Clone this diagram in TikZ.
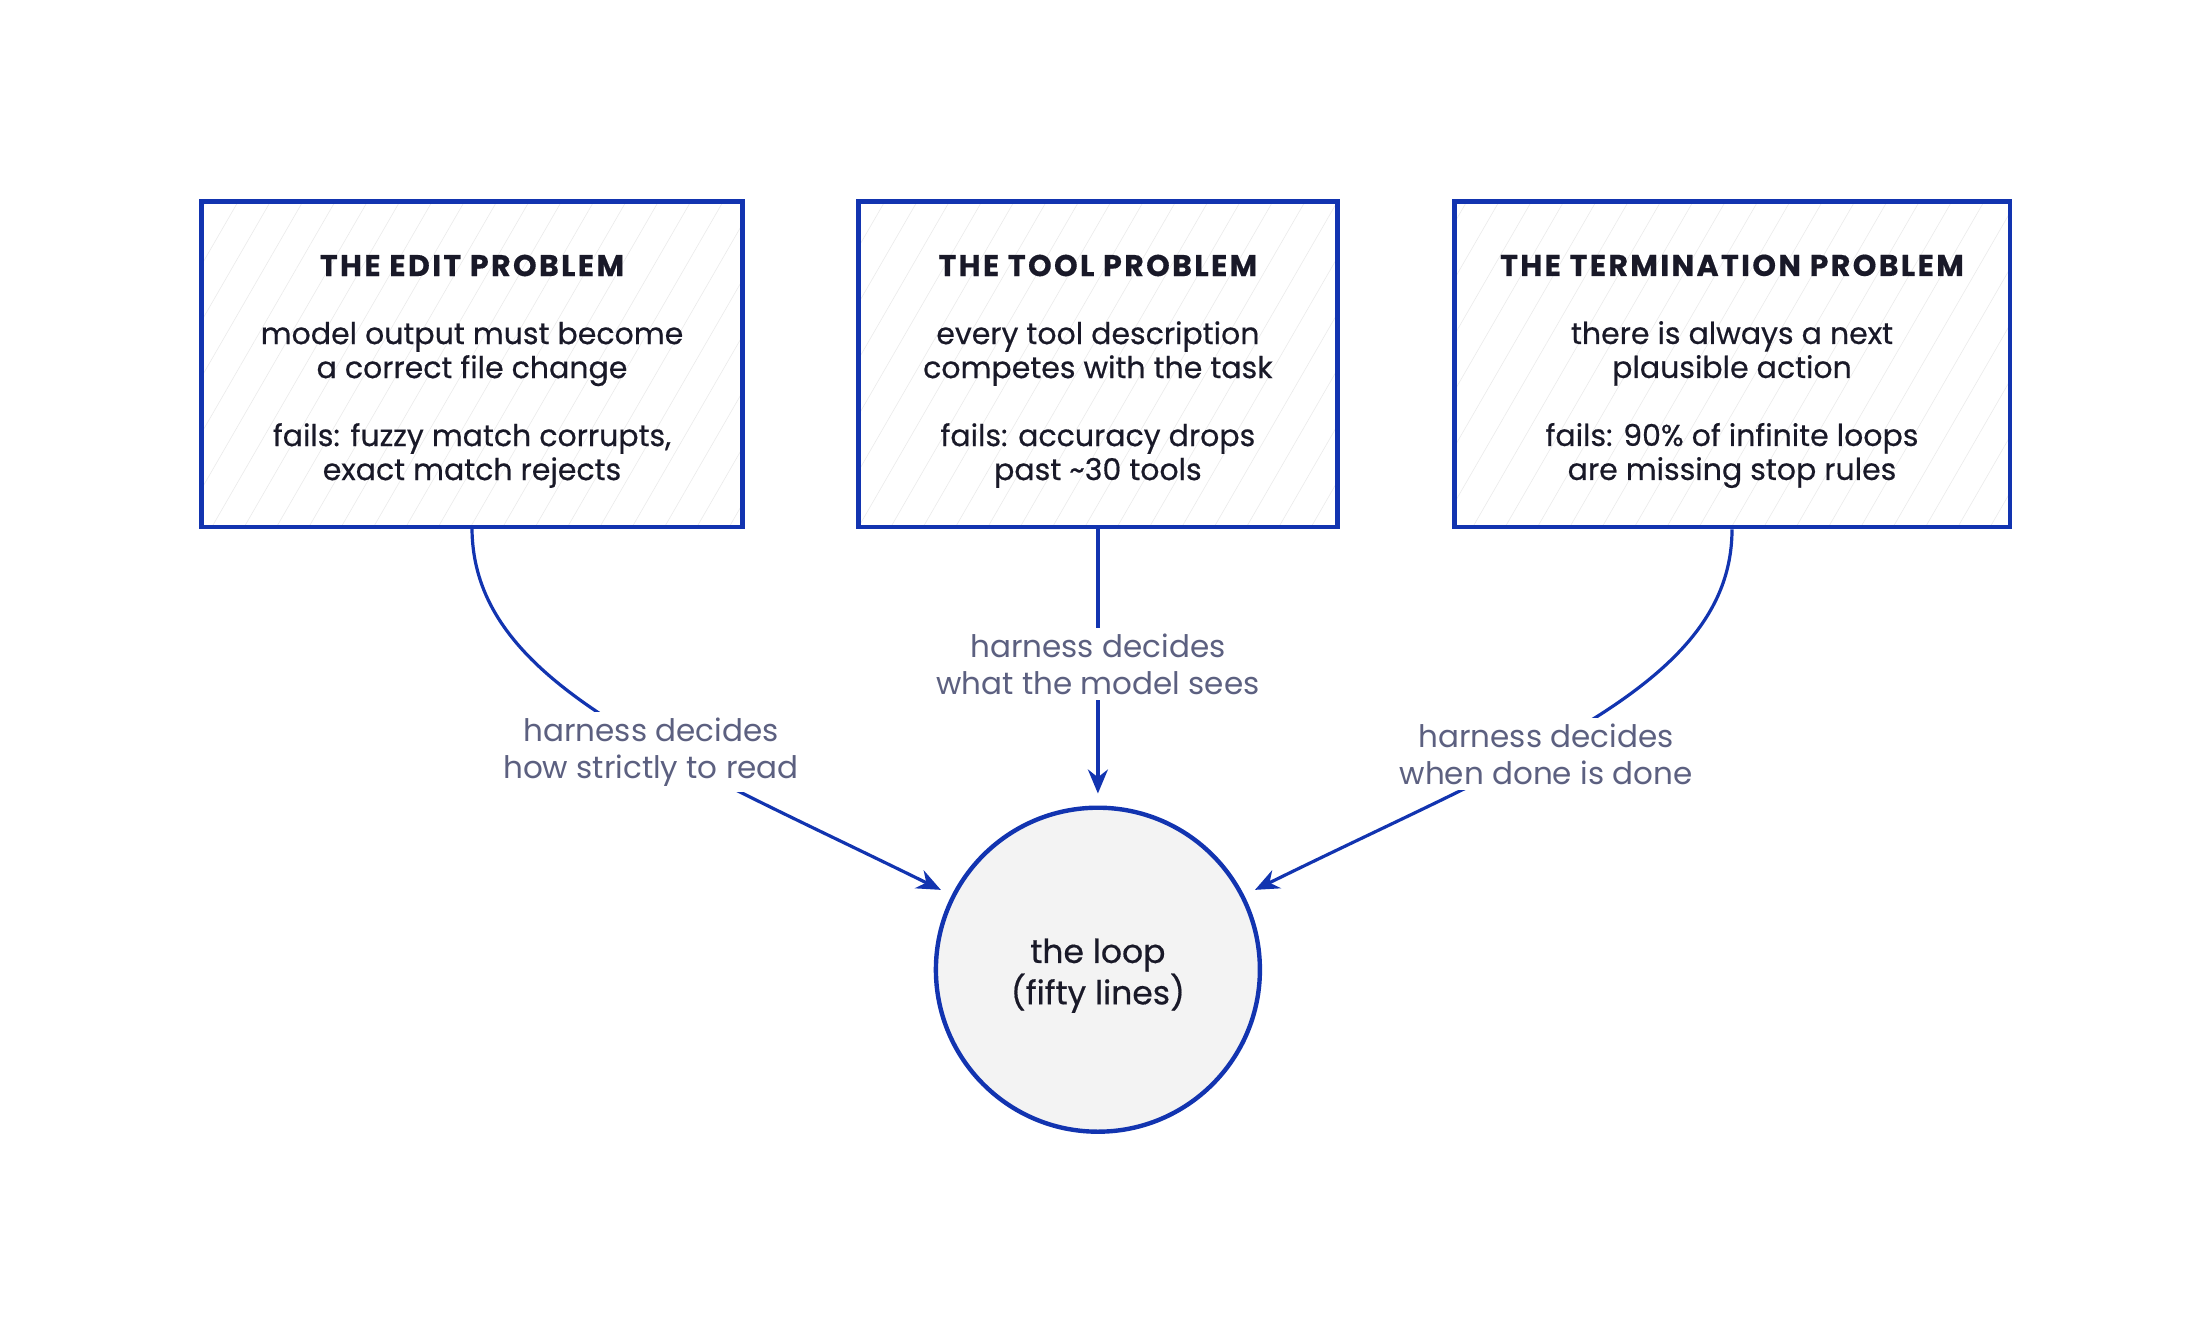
\documentclass[tikz,border=0pt]{standalone}
\usepackage{fontspec}
\setmainfont{Poppins}
\usetikzlibrary{arrows.meta,patterns.meta}
\definecolor{edge}{RGB}{18,52,176}
\definecolor{ink}{RGB}{25,25,40}
\definecolor{muted}{RGB}{92,96,128}
\definecolor{loopfill}{RGB}{243,243,243}
\tikzset{
  probbox/.style={draw=edge,line width=2.2pt,preaction={fill=white},
    pattern={Lines[angle=60,distance=14pt,line width=0.3pt]},pattern color=black!8,
    minimum height=162.8pt,inner sep=0pt},
  probtext/.style={align=center,text=ink,font=\fontsize{15}{17}\selectfont\addfontfeatures{FakeBold=0.5},inner sep=0pt},
  loopnode/.style={circle,draw=edge,line width=2.2pt,fill=loopfill,minimum size=162pt,inner sep=0pt},
  looptext/.style={align=center,text=ink,font=\fontsize{16.5}{18}\selectfont\addfontfeatures{FakeBold=0.5},inner sep=0pt},
  arr/.style={draw=edge,line width=1.6pt,-{Stealth[length=12pt,width=10pt]},shorten >=6pt},
  lab/.style={fill=white,text=muted,align=center,font=\fontsize{15.5}{18.5}\selectfont,inner sep=3pt}
}
\newcommand{\ptitle}[1]{{\bfseries\addfontfeatures{LetterSpace=8}#1}}
\begin{document}
\begin{tikzpicture}[x=0.5pt,y=-0.5pt]
\useasboundingbox (0,0) rectangle (2210,1342);
\node[probbox,minimum width=270.6pt] (b1) at (472,364.3) {};
\node[probbox,minimum width=239.6pt] (b2) at (1097.9,364.3) {};
\node[probbox,minimum width=277.7pt] (b3) at (1732,364.3) {};
\node[probtext] (t1) at ([yshift=-3.5pt]b1.center) {\ptitle{THE EDIT PROBLEM}\\[17pt]model output must become\\a correct file change\\[17pt]fails: fuzzy match corrupts,\\exact match rejects};
\node[probtext] (t2) at ([yshift=-3.5pt]b2.center) {\ptitle{THE TOOL PROBLEM}\\[17pt]every tool description\\competes with the task\\[17pt]fails: accuracy drops\\past \textasciitilde30 tools};
\node[probtext] (t3) at ([yshift=-3.5pt]b3.center) {\ptitle{THE TERMINATION PROBLEM}\\[17pt]there is always a next\\plausible action\\[17pt]fails: 90\% of infinite loops\\are missing stop rules};
\node[loopnode] (loop) at (1097.9,969.7) {};
\node[looptext] (lt) at ([yshift=-3pt]loop.center) {the loop\\(fifty lines)};
\draw[arr] (b1.south) .. controls +(0,153) and +(-291,-143) .. (loop.153);
\draw[arr] (b2.south) -- (loop.north);
\draw[arr] (b3.south) .. controls +(0,153) and +(291,-143) .. (loop.27);
\node[lab] (l1) at (651,752) {harness decides\\how strictly to read};
\node[lab] (l2) at (1097.9,664) {harness decides\\what the model sees};
\node[lab] (l3) at (1546,754) {harness decides\\when done is done};
\end{tikzpicture}
\end{document}
